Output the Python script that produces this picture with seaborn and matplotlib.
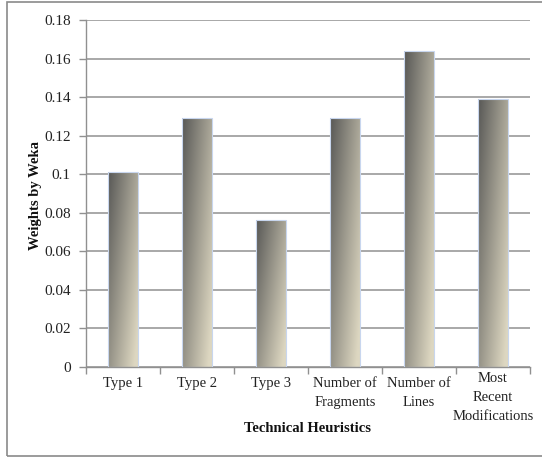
import numpy as np
import pandas as pd
import matplotlib
matplotlib.use("Agg")
import matplotlib.pyplot as plt
import seaborn as sns
from matplotlib.patches import Rectangle
from matplotlib.colors import to_rgb

categories = ["Type 1", "Type 2", "Type 3", "Number of\nFragments", "Number of\nLines",
              "Most\nRecent\nModifications"]
weights = [0.101, 0.129, 0.076, 0.129, 0.164, 0.139]
yticks = [0, 0.02, 0.04, 0.06, 0.08, 0.1, 0.12, 0.14, 0.16, 0.18]
ytick_labels = ["0", "0.02", "0.04", "0.06", "0.08", "0.1", "0.12", "0.14", "0.16", "0.18"]

sns.set_theme(style="white")
plt.rcParams['font.family'] = ['Liberation Serif', 'DejaVu Serif']

W, H = 542, 458
fig = plt.figure(figsize=(W / 100, H / 100), dpi=100)
ax = fig.add_axes([86 / W, 1 - 367 / H, (530 - 86) / W, (367 - 20) / H])

df = pd.DataFrame({"cat": categories, "w": weights})
sns.barplot(data=df, x="cat", y="w", ax=ax, width=0.4, color="#888880",
            edgecolor="#c8d6ee", linewidth=0.8, zorder=3)

ax.set_ylim(0, 0.18)
ax.set_xlim(-0.5, len(categories) - 0.5)
ax.set_yticks(yticks)
ax.set_yticklabels(ytick_labels, fontsize=11, color="#222222")
ax.yaxis.grid(True, color="#a8a8a8", linewidth=1.4, zorder=0)
ax.set_axisbelow(True)

# gradient fill for bars
dark = np.array(to_rgb("#585856"))
light = np.array(to_rgb("#ddd7c1"))
nx, ny = 64, 64
u = np.linspace(0, 1, nx)[None, :]
v = np.linspace(1, 0, ny)[:, None]  # image row 0 = top
t = np.clip(0.62 * u + 0.45 * (1 - v), 0, 1)
img = dark[None, None, :] * (1 - t[..., None]) + light[None, None, :] * t[..., None]
for p in ax.patches:
    x0, y0 = p.get_x(), p.get_y()
    w, h = p.get_width(), p.get_height()
    p.set_facecolor("none")
    im = ax.imshow(img, extent=[x0, x0 + w, y0, y0 + h], aspect="auto",
                   zorder=2.5, interpolation="bilinear")
    im.set_clip_path(p)
ax.set_aspect("auto")
ax.set_xlim(-0.5, len(categories) - 0.5)
ax.set_ylim(0, 0.18)

# x ticks at category boundaries
ax.set_xticks(np.arange(-0.5, len(categories) + 0.5, 1.0))
ax.set_xticklabels([])
ax.tick_params(axis="x", which="both", direction="out", length=5, width=1, color="#909090", bottom=True)
ax.tick_params(axis="y", which="both", direction="out", length=5, width=1, color="#909090", left=True, pad=6)

trans = matplotlib.transforms.blended_transform_factory(ax.transData, fig.transFigure)
for i, lab in enumerate(categories):
    nlines = lab.count("\n") + 1
    ytop = 377 if nlines < 3 else 372
    ax.text(i, 1 - ytop / H, lab, transform=trans,
            ha="center", va="top", fontsize=10.5, color="#222222", linespacing=1.58)

for s in ["top", "right"]:
    ax.spines[s].set_visible(False)
for s in ["left", "bottom"]:
    ax.spines[s].set_color("#909090")
    ax.spines[s].set_linewidth(1.0)

ax.set_xlabel("")
ax.set_ylabel("")
fig.text(308 / W, 1 - 428 / H, "Technical Heuristics", ha="center", va="center",
         fontsize=10.5, fontweight="bold", color="#111111")
fig.text(36 / W, 1 - 195 / H, "Weights by Weka", ha="center", va="center", rotation=90,
         fontsize=10.5, fontweight="bold", color="#111111")

border = Rectangle((7 / W, 1 - 456 / H), (545 - 7) / W, (456 - 2) / H, transform=fig.transFigure,
                   fill=False, edgecolor="#8a8a8a", linewidth=1.2)
fig.patches.append(border)

fig.savefig("out.png", dpi=100)
